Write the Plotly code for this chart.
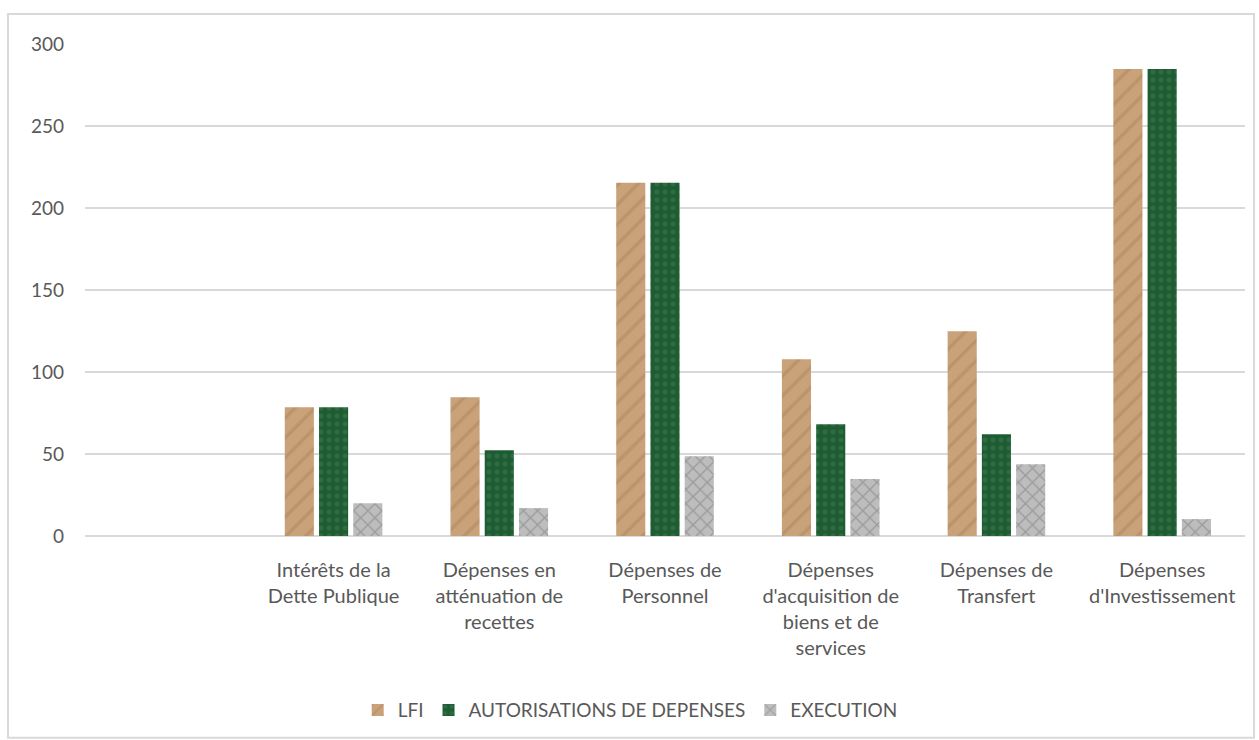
import plotly.graph_objects as go

categories = [" ",
              "Intérêts de la<br>Dette Publique",
              "Dépenses en<br>atténuation de<br>recettes",
              "Dépenses de<br>Personnel",
              "Dépenses<br>d'acquisition de<br>biens et de<br>services",
              "Dépenses de<br>Transfert",
              "Dépenses<br>d'Investissement"]
lfi = [None, 78.5, 84.6, 215.4, 107.7, 124.8, 284.8]
autorisations = [None, 78.5, 52.3, 215.4, 68.2, 62.0, 284.8]
execution = [None, 20.0, 17.0, 48.7, 34.7, 43.8, 10.3]
yticks = [0, 50, 100, 150, 200, 250, 300]

FONT = "Lato, 'Open Sans', sans-serif"
GRAY = "#595959"

fig = go.Figure()
fig.add_trace(go.Bar(name="LFI", x=categories, y=lfi,
                     marker=dict(color="#C9A27A", line=dict(width=0),
                                 pattern=dict(shape="/", fgcolor="#A07A52", fgopacity=0.35, size=14, solidity=0.25))))
fig.add_trace(go.Bar(name="AUTORISATIONS DE DEPENSES", x=categories, y=autorisations,
                     marker=dict(color="#1F5C33", line=dict(width=0),
                                 pattern=dict(shape=".", fgcolor="#3E7D52", fgopacity=0.5, size=8, solidity=0.3))))
fig.add_trace(go.Bar(name="EXECUTION", x=categories, y=execution,
                     marker=dict(color="#BDBDBD", line=dict(width=0),
                                 pattern=dict(shape="x", fgcolor="#7A7A7A", fgopacity=0.5, size=10, solidity=0.25))))

fig.update_layout(
    width=1259, height=740,
    margin=dict(l=85, r=14, t=44, b=203),
    paper_bgcolor="white", plot_bgcolor="white",
    barmode="group", bargap=0.38, bargroupgap=0.15,
    font=dict(family=FONT, size=19, color=GRAY),
    showlegend=True,
    legend=dict(orientation="h", x=0.47, y=-0.351, xanchor="center", yanchor="middle",
                font=dict(family=FONT, size=19, color=GRAY), itemwidth=30,
                traceorder="normal"),
    xaxis=dict(type="category", categoryorder="array", categoryarray=categories,
               showgrid=False, showline=False, ticks="", tickangle=0, ticklabelstandoff=20,
               tickfont=dict(family=FONT, size=20, color=GRAY)),
    yaxis=dict(range=[0, 300], tickvals=yticks, showgrid=True, gridcolor="#D9D9D9",
               gridwidth=1.5, zeroline=True, zerolinecolor="#D9D9D9", zerolinewidth=1.5,
               showline=False, ticks="", ticklabelstandoff=20,
               tickfont=dict(family=FONT, size=19, color=GRAY)),
    shapes=[dict(type="rect", xref="paper", yref="paper",
                 x0=-0.0664, x1=1.0078, y0=-0.41, y1=1.0609,
                 line=dict(color="#D9D9D9", width=2), fillcolor="rgba(0,0,0,0)", layer="below")],
)

fig.write_html("out.html")
